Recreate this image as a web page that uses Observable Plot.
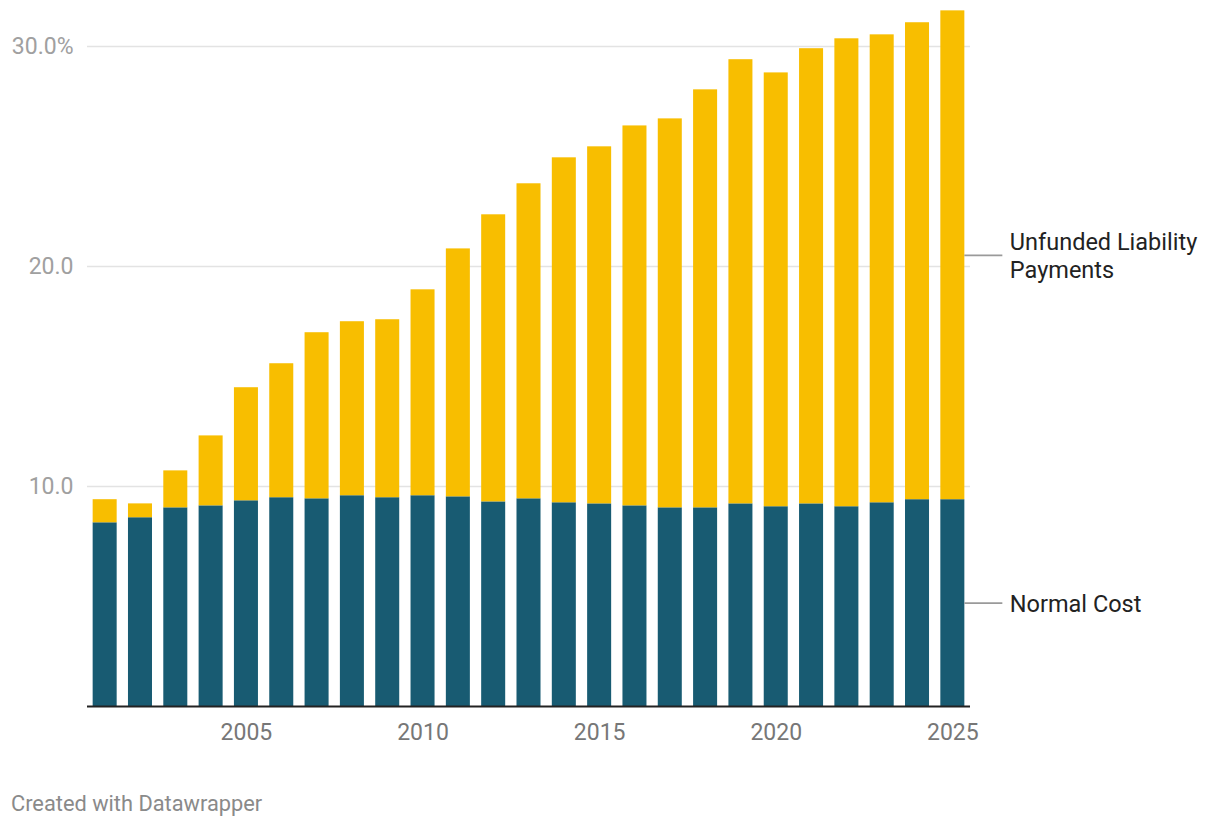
<!DOCTYPE html>
<html>
<head>
<meta charset="utf-8">
<script src="https://cdn.jsdelivr.net/npm/d3@7"></script>
<script src="https://cdn.jsdelivr.net/npm/@observablehq/plot@0.6"></script>
<style>
  html, body { margin: 0; padding: 0; background: #fff; }
  #wrap { position: relative; width: 1220px; height: 828px; font-family: Roboto, sans-serif; }
  #footer { position: absolute; left: 11px; top: 791px; font-size: 21.8px; color: #8a8a8a; font-family: Roboto, sans-serif; }
</style>
</head>
<body>
<div id="wrap">
  <div id="chart"></div>
  <div id="footer">Created with Datawrapper</div>
</div>
<script>
const years = [2001, 2002, 2003, 2004, 2005, 2006, 2007, 2008, 2009, 2010, 2011, 2012, 2013,
               2014, 2015, 2016, 2017, 2018, 2019, 2020, 2021, 2022, 2023, 2024, 2025];
const normalCost = [8.35, 8.58, 9.03, 9.12, 9.35, 9.49, 9.44, 9.58, 9.49, 9.58, 9.53, 9.30, 9.44,
                    9.26, 9.21, 9.12, 9.03, 9.03, 9.21, 9.08, 9.21, 9.08, 9.26, 9.40, 9.40];
const unfunded = [1.05, 0.63, 1.68, 3.18, 5.14, 6.09, 7.55, 7.91, 8.09, 9.36, 11.27, 13.05, 14.32,
                  15.68, 16.23, 17.27, 17.68, 19.00, 20.19, 19.72, 20.69, 21.27, 21.27, 21.68, 22.22];
const seriesNames = ["Normal Cost", "Unfunded Liability Payments"];
const seriesLabels = ["Normal Cost", "Unfunded Liability\nPayments"];
const seriesColors = ["#185b72", "#f8be00"];
const yTicks = [10, 20, 30];
const xTicks = [2005, 2010, 2015, 2020, 2025];

const rows = [];
years.forEach((yr, i) => {
  rows.push({year: yr, series: seriesNames[0], label: seriesLabels[0], value: normalCost[i]});
  rows.push({year: yr, series: seriesNames[1], label: seriesLabels[1], value: unfunded[i]});
});
const lastYear = years[years.length - 1];
const lastRows = rows.filter(d => d.year === lastYear);

const chart = Plot.plot({
  width: 1220,
  height: 760,
  marginLeft: 87,
  marginRight: 250,
  marginTop: 2,
  marginBottom: 54,
  style: {fontFamily: "Roboto, sans-serif", background: "#fff"},
  x: {type: "band", domain: years, paddingInner: 0.32, paddingOuter: 0.16, round: false, label: null},
  y: {domain: [0, 32], label: null},
  color: {domain: seriesNames, range: seriesColors},
  marks: [
    Plot.gridY(yTicks, {stroke: "#e3e3e3", strokeOpacity: 1, strokeWidth: 1.5}),
    Plot.barY(rows, {x: "year", y: "value", fill: "series", z: "series", order: seriesNames}),
    Plot.ruleY([0], {stroke: "#222", strokeWidth: 2}),
    Plot.axisY(yTicks, {
      tickSize: 0, tickPadding: 14, fontSize: 23, fill: "#a0a0a0", label: null,
      tickFormat: d => d === 30 ? "30.0%" : d.toFixed(1)
    }),
    Plot.axisX(xTicks, {tickSize: 0, tickPadding: 17.5, fontSize: 23, fill: "#777", label: null, tickFormat: d => String(d)}),
    Plot.tickY(lastRows, Plot.stackY({x: "year", y: "value", z: "series", order: seriesNames,
      stroke: "#9a9a9a", strokeWidth: 1.8, insetLeft: 24, insetRight: -38})),
    Plot.text(lastRows, Plot.stackY({x: "year", y: "value", z: "series", order: seriesNames, text: "label",
      dx: 57, textAnchor: "start", lineAnchor: "middle", lineHeight: 1.2, fontSize: 23.5, fill: "#222"}))
  ]
});
document.getElementById("chart").appendChild(chart);
</script>
</body>
</html>
